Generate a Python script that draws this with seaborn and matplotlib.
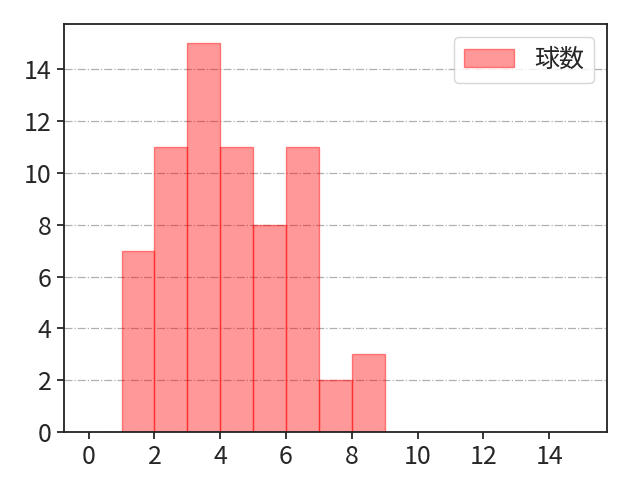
import matplotlib
matplotlib.use('Agg')
import matplotlib.pyplot as plt
import seaborn as sns
import pandas as pd

# pitches per bin (bins 1-2, 2-3, ..., 8-9)
bin_left = [1, 2, 3, 4, 5, 6, 7, 8]
counts = [7, 11, 15, 11, 8, 11, 2, 3]
bin_edges = [1, 2, 3, 4, 5, 6, 7, 8, 9]
label = '球数'

sns.set_style('ticks')
plt.rcParams['font.family'] = ['Noto Sans CJK JP', 'DejaVu Sans']
plt.rcParams['font.size'] = 18

df = pd.DataFrame({'x': [b + 0.5 for b in bin_left], 'n': counts})

fig, ax = plt.subplots(figsize=(6.4, 4.8), dpi=100)
sns.histplot(data=df, x='x', weights='n', bins=bin_edges, ax=ax,
             color='red', alpha=0.4, edgecolor=(1, 0, 0, 0.45), linewidth=1, label=label)

ax.set_xlim(-0.75, 15.75)
ax.set_ylim(0, 15.75)
ax.set_xticks(range(0, 16, 2))
ax.set_yticks(range(0, 16, 2))
ax.set_xlabel('')
ax.set_ylabel('')
ax.grid(axis='y', linestyle='-.', color='#b0b0b0', linewidth=0.9)
ax.set_axisbelow(True)
for s in ax.spines.values():
    s.set_linewidth(1.3)
    s.set_color('#222222')
ax.tick_params(length=5, width=1.3, labelsize=18, pad=4)

ax.legend(loc='upper right', fontsize=18)

fig.subplots_adjust(left=0.1, right=0.948, top=0.95, bottom=0.1)
fig.savefig('out.png')
